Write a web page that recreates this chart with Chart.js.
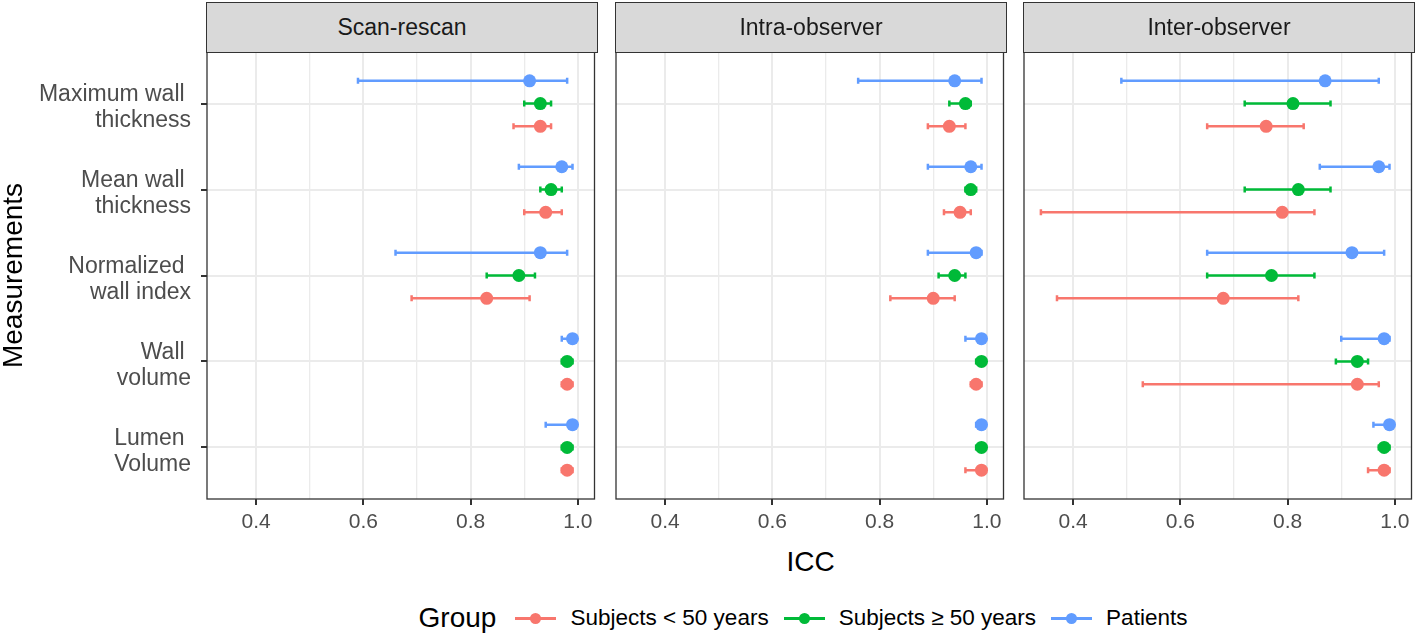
<!DOCTYPE html>
<html>
<head>
<meta charset="utf-8">
<script src="https://cdn.jsdelivr.net/npm/chart.js@4.4.1/dist/chart.umd.min.js"></script>
<style>
  body { margin: 0; width: 1418px; height: 637px; background: #fff; position: relative; overflow: hidden;
         font-family: 'Liberation Sans', Arial, sans-serif; }
  canvas { position: absolute; top: 0; }
  .strip { position: absolute; top: 1.5px; height: 51px; box-sizing: border-box; border: 1.3px solid #333;
           background: #d9d9d9; color: #1a1a1a; font-size: 23px; display: flex; align-items: center; justify-content: center; }
  #xtitle { position: absolute; left: 207px; width: 1207px; top: 546px; text-align: center; font-size: 28px; color: #000; }
  #legend { position: absolute; left: 207px; width: 1207px; top: 601px; height: 34px; display: flex;
            justify-content: center; align-items: center; font-size: 22.5px; color: #000; }
  #legend .title { font-size: 28px; margin-right: 19px; }
  #legend .key { position: relative; width: 41px; height: 12px; margin-right: 14px; }
  #legend .key .ln { position: absolute; left: 0; right: 0; top: 4.5px; height: 3px; }
  #legend .key .dt { position: absolute; left: 15px; top: 0.5px; width: 11px; height: 11px; border-radius: 50%; }
  #legend .lab { margin-right: 15px; }
</style>
</head>
<body>
<canvas id="p0" width="601" height="545" style="left:0px"></canvas>
<canvas id="p1" width="402" height="545" style="left:608px"></canvas>
<canvas id="p2" width="402" height="545" style="left:1016px"></canvas>
<div id="xtitle">ICC</div>
<div id="legend"></div>
<script>
// categories (top to bottom), facet titles, groups
const measurements = [['Maximum wall ', 'thickness'], ['Mean wall ', 'thickness'], ['Normalized ', 'wall index'], ['Wall ', 'volume'], ['Lumen ', 'Volume']];
const panels = ['Scan-rescan', 'Intra-observer', 'Inter-observer'];
const groups = ['Subjects < 50 years', 'Subjects \u2265 50 years', 'Patients'];
const iccTicks = [0.4, 0.5, 0.6, 0.7, 0.8, 0.9, 1.0];

// each entry: [ICC, lower 95% CI, upper 95% CI], one per measurement
const scanYoung    = [[0.93, 0.88, 0.95], [0.94, 0.90, 0.97], [0.83, 0.69, 0.91], [0.98, 0.97, 0.99], [0.98, 0.97, 0.99]];
const scanOld      = [[0.93, 0.90, 0.95], [0.95, 0.93, 0.97], [0.89, 0.83, 0.92], [0.98, 0.97, 0.99], [0.98, 0.97, 0.99]];
const scanPatients = [[0.91, 0.59, 0.98], [0.97, 0.89, 0.99], [0.93, 0.66, 0.98], [0.99, 0.97, 0.99], [0.99, 0.94, 0.99]];

const intraYoung    = [[0.93, 0.89, 0.96], [0.95, 0.92, 0.97], [0.90, 0.82, 0.94], [0.98, 0.97, 0.99], [0.99, 0.96, 0.99]];
const intraOld      = [[0.96, 0.93, 0.97], [0.97, 0.96, 0.98], [0.94, 0.91, 0.96], [0.99, 0.98, 0.99], [0.99, 0.98, 0.99]];
const intraPatients = [[0.94, 0.76, 0.99], [0.97, 0.89, 0.99], [0.98, 0.89, 0.99], [0.99, 0.96, 0.99], [0.99, 0.98, 0.99]];

const interYoung    = [[0.76, 0.65, 0.83], [0.79, 0.34, 0.85], [0.68, 0.37, 0.82], [0.93, 0.53, 0.97], [0.98, 0.95, 0.99]];
const interOld      = [[0.81, 0.72, 0.88], [0.82, 0.72, 0.88], [0.77, 0.65, 0.85], [0.93, 0.89, 0.95], [0.98, 0.97, 0.99]];
const interPatients = [[0.87, 0.49, 0.97], [0.97, 0.86, 0.99], [0.92, 0.65, 0.98], [0.98, 0.90, 0.99], [0.99, 0.96, 0.99]];

const panelData = [
    [scanYoung, scanOld, scanPatients],
    [intraYoung, intraOld, intraPatients],
    [interYoung, interOld, interPatients]
];

const colors = ['#F8766D', '#00BA38', '#619CFF'];
const dodge = [0.265, 0, -0.265];
const panelLeft = [207, 616, 1024];
const panelWidth = 390;

Chart.defaults.font.family = "'Liberation Sans', Arial, sans-serif";

const isMajor = v => Math.round(v * 10) % 2 === 0;

// horizontal CI bars under the points, and the panel frame on top
const errorBars = {
    id: 'errorBars',
    beforeDatasetsDraw(chart) {
        const { ctx, chartArea, scales: { x, y } } = chart;
        ctx.save();
        ctx.beginPath();
        ctx.rect(chartArea.left, chartArea.top, chartArea.width, chartArea.height);
        ctx.clip();
        chart.data.datasets.forEach(ds => {
            ctx.strokeStyle = ds.backgroundColor;
            ctx.lineWidth = 2.5;
            ds.data.forEach(p => {
                const x0 = x.getPixelForValue(p.lo), x1 = x.getPixelForValue(p.hi), yy = y.getPixelForValue(p.y);
                ctx.beginPath();
                ctx.moveTo(x0, yy); ctx.lineTo(x1, yy);
                ctx.moveTo(x0, yy - 3); ctx.lineTo(x0, yy + 3);
                ctx.moveTo(x1, yy - 3); ctx.lineTo(x1, yy + 3);
                ctx.stroke();
            });
        });
        ctx.restore();
    },
    afterDraw(chart) {
        const { ctx, chartArea } = chart;
        ctx.save();
        ctx.strokeStyle = '#333';
        ctx.lineWidth = 1.3;
        ctx.strokeRect(chartArea.left, chartArea.top, chartArea.width, chartArea.height);
        ctx.restore();
    }
};

function makePanel(idx) {
    const first = idx === 0;
    const datasets = panelData[idx].map((rows, g) => ({
        label: groups[g],
        data: rows.map((r, i) => ({ x: r[0], y: i + dodge[g], lo: r[1], hi: r[2] })),
        backgroundColor: colors[g],
        borderWidth: 0,
        pointRadius: 6.5,
        pointHoverRadius: 6.5
    }));

    new Chart(document.getElementById('p' + idx), {
        type: 'scatter',
        data: { datasets },
        plugins: [errorBars],
        options: {
            responsive: false,
            animation: false,
            events: [],
            layout: { padding: { top: 52, bottom: 0, left: first ? 0 : 8, right: 4 } },
            plugins: { legend: { display: false }, tooltip: { enabled: false } },
            scales: {
                x: {
                    type: 'linear', min: 0.3085, max: 1.031,
                    afterBuildTicks: s => { s.ticks = iccTicks.map(v => ({ value: v })); },
                    afterFit: s => { s.height = 46; },
                    border: { display: false },
                    grid: {
                        color: '#ebebeb',
                        lineWidth: c => isMajor(c.tick.value) ? 2 : 1.3,
                        tickColor: c => isMajor(c.tick.value) ? '#333' : 'rgba(0,0,0,0)',
                        tickWidth: 2, tickLength: 6
                    },
                    ticks: {
                        autoSkip: false, maxRotation: 0, padding: 5, color: '#4d4d4d',
                        font: { size: 21 },
                        callback: v => isMajor(v) ? v.toFixed(1) : ''
                    }
                },
                y: {
                    type: 'linear', min: -0.6, max: 4.6, reverse: true,
                    afterBuildTicks: s => { s.ticks = measurements.map((m, i) => ({ value: i })); },
                    afterFit: s => { s.width = first ? 207 : 0; },
                    border: { display: false },
                    grid: {
                        color: '#ebebeb', lineWidth: 2,
                        drawTicks: first, tickColor: '#333', tickWidth: 2, tickLength: 6
                    },
                    ticks: {
                        display: first, autoSkip: false, padding: 10, labelOffset: 4, color: '#4d4d4d',
                        font: { size: 23, lineHeight: 1.13 },
                        callback: v => measurements[v]
                    },
                    title: {
                        display: first, text: 'Measurements', color: '#000',
                        font: { size: 28, lineHeight: 1 }, padding: 0
                    }
                }
            }
        }
    });

    const strip = document.createElement('div');
    strip.className = 'strip';
    strip.style.left = (panelLeft[idx] - 0.65) + 'px';
    strip.style.width = (panelWidth + 1.3) + 'px';
    strip.textContent = panels[idx];
    document.body.appendChild(strip);
}

panels.forEach((p, i) => makePanel(i));

const legend = document.getElementById('legend');
legend.innerHTML = '<span class="title">Group</span>' + groups.map((g, i) =>
    `<span class="key"><span class="ln" style="background:${colors[i]}"></span><span class="dt" style="background:${colors[i]}"></span></span><span class="lab">${g}</span>`
).join('');
</script>
</body>
</html>
